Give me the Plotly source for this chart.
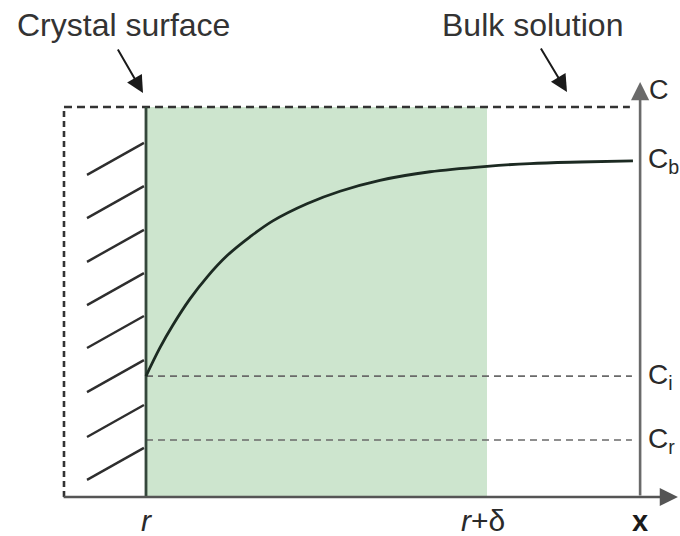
import plotly.graph_objects as go

# Position measured from the crystal surface: surface at r -> 0, edge of the film r+δ -> 1
curve_x = [0.0, 0.041, 0.079, 0.129, 0.179, 0.238, 0.305, 0.372, 0.472,
           0.569, 0.686, 0.833, 1.0, 1.126, 1.273, 1.428]
# Concentration profile across the diffusion layer (relative units)
curve_c = [0.310, 0.383, 0.441, 0.508, 0.564, 0.619, 0.667, 0.708, 0.752,
           0.784, 0.812, 0.834, 0.848, 0.855, 0.859, 0.862]

# Characteristic concentrations: bulk, interface, equilibrium at the surface
conc_labels = ["C<sub>b</sub>", "C<sub>i</sub>", "C<sub>r</sub>"]
conc_values = [0.862, 0.310, 0.146]

# Positions along x
x_tick_labels = ["<i>r</i>", "<i>r</i>+δ"]
x_tick_values = [0.0, 1.0]

# Lower ends of the hatch strokes marking the solid crystal
hatch_low = [0.044, 0.154, 0.269, 0.382, 0.492, 0.603, 0.715, 0.826]

SURFACE = x_tick_values[0]
FILM_EDGE = x_tick_values[1]
C_AXIS_X = 1.449
LEFT_X = -0.2405
TOP_C = 1.0
FONT = "Liberation Sans, Arial, sans-serif"

fig = go.Figure()

# diffusion film
fig.add_shape(type="rect", x0=SURFACE, x1=FILM_EDGE, y0=0, y1=TOP_C,
              fillcolor="rgb(205,229,206)", line_width=0, layer="below")

# hatching on the solid side
hx, hy = [], []
for c in hatch_low:
    hx += [-0.173, -0.006, None]
    hy += [c, c + 0.082, None]
fig.add_trace(go.Scatter(x=hx, y=hy, mode="lines",
                         line=dict(color="#2e2e2e", width=2.4), hoverinfo="skip"))

# outer dashed boundary (top and left)
fig.add_trace(go.Scatter(x=[LEFT_X, C_AXIS_X - 0.03], y=[TOP_C, TOP_C], mode="lines",
                         line=dict(color="#333333", width=2.4, dash="8px,5px"),
                         hoverinfo="skip"))
fig.add_trace(go.Scatter(x=[LEFT_X, LEFT_X], y=[0, TOP_C], mode="lines",
                         line=dict(color="#333333", width=2.6, dash="6px,4px"),
                         hoverinfo="skip"))

# reference levels C_i and C_r
for c in conc_values[1:]:
    fig.add_trace(go.Scatter(x=[SURFACE, 1.425], y=[c, c], mode="lines",
                             line=dict(color="#6a6a6a", width=1.6, dash="7px,5px"),
                             hoverinfo="skip"))

# crystal surface
fig.add_trace(go.Scatter(x=[SURFACE, SURFACE], y=[0, TOP_C], mode="lines",
                         line=dict(color="#34473b", width=2.8), hoverinfo="skip"))

# concentration profile
fig.add_trace(go.Scatter(x=curve_x, y=curve_c, mode="lines", line_shape="spline",
                         line=dict(color="#1c2a22", width=2.8), hoverinfo="skip"))

annotations = []
# x axis and C axis, each ending in an arrowhead
annotations.append(dict(x=1.560, y=0, ax=-0.246, ay=0, xref="x", yref="y",
                        axref="x", ayref="y", text="", showarrow=True,
                        arrowhead=2, arrowsize=1.4, arrowwidth=2.6,
                        arrowcolor="#555555"))
annotations.append(dict(x=C_AXIS_X, y=1.064, ax=C_AXIS_X, ay=0, xref="x", yref="y",
                        axref="x", ayref="y", text="", showarrow=True,
                        arrowhead=2, arrowsize=1.4, arrowwidth=2.6,
                        arrowcolor="#6a6a6a"))

# callout arrows
annotations.append(dict(x=-0.0088, y=1.036, ax=-26, ay=-45, text="", showarrow=True,
                        arrowhead=2, arrowsize=1.7, arrowwidth=2, arrowcolor="#1a1a1a"))
annotations.append(dict(x=1.2346, y=1.0385, ax=-27, ay=-45, text="", showarrow=True,
                        arrowhead=2, arrowsize=1.7, arrowwidth=2, arrowcolor="#1a1a1a"))

label_font = dict(family=FONT, size=32, color="#333333")
annotations.append(dict(x=-0.0674, y=1.2103, text="Crystal surface", showarrow=False,
                        font=label_font, xanchor="center", yanchor="middle"))
annotations.append(dict(x=1.1320, y=1.2103, text="Bulk solution", showarrow=False,
                        font=label_font, xanchor="center", yanchor="middle"))

c_font = dict(family=FONT, size=28, color="#2a2a2a")
annotations.append(dict(x=1.468, y=1.0436, text="C", showarrow=False,
                        font=dict(family=FONT, size=27, color="#2a2a2a"),
                        xanchor="left", yanchor="middle"))
for lab, c in zip(conc_labels, conc_values):
    annotations.append(dict(x=1.465, y=c, text=lab, showarrow=False, font=c_font,
                            xanchor="left", yanchor="middle"))

x_font = dict(family=FONT, size=30, color="#2a2a2a")
for lab, xv in zip(x_tick_labels, x_tick_values):
    annotations.append(dict(x=xv, y=-0.0615, text=lab, showarrow=False, font=x_font,
                            xanchor="center", yanchor="middle",
                            xshift=-4 if xv > 0 else 0))
annotations.append(dict(x=C_AXIS_X, y=-0.0615, text="<b>x</b>", showarrow=False,
                        font=dict(family=FONT, size=29, color="#1a1a1a"),
                        xanchor="center", yanchor="middle"))

fig.update_layout(
    width=680, height=536,
    margin=dict(l=0, r=0, t=0, b=0),
    paper_bgcolor="white", plot_bgcolor="white",
    showlegend=False,
    xaxis=dict(range=[-146 / 341, 534 / 341], visible=False, fixedrange=True),
    yaxis=dict(range=[-39 / 390, 497 / 390], visible=False, fixedrange=True),
    annotations=annotations,
)

fig.write_html("out.html")
